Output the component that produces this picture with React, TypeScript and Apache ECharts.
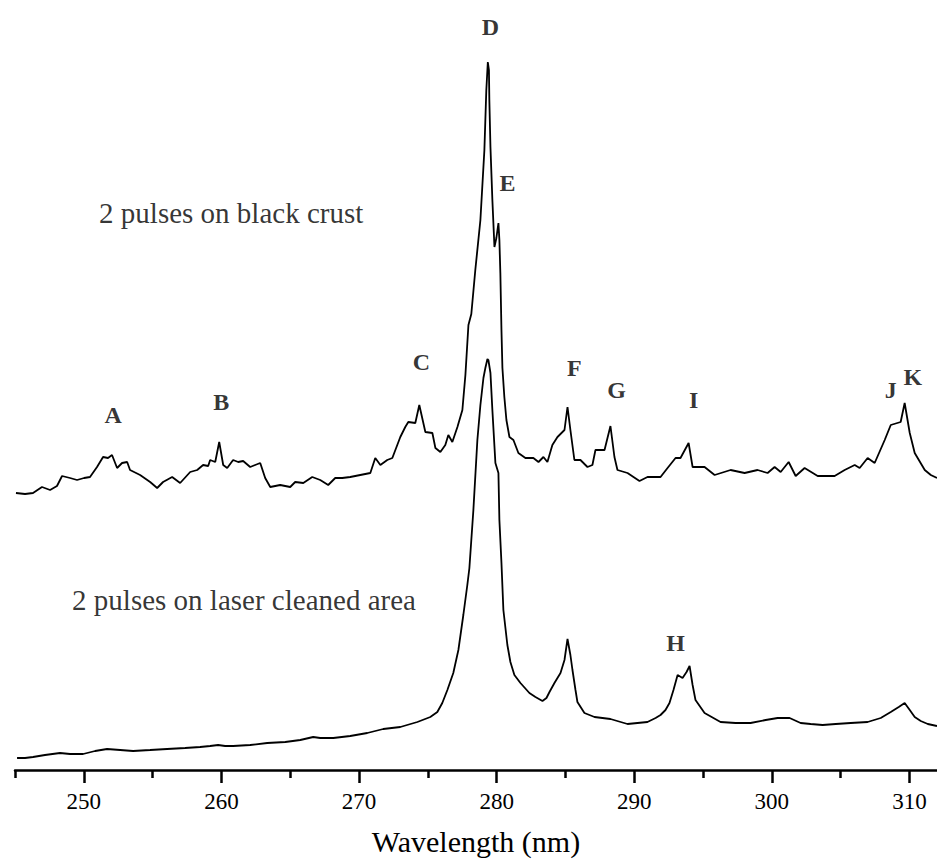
import React, { useEffect, useRef } from "react";
import * as echarts from "echarts";

// Wavelength axis (nm)
const axisMin = 245;
const axisMax = 312;
const majorTicks = [250, 260, 270, 280, 290, 300, 310];
const minorTicks = [245, 255, 265, 275, 285, 295, 305];

// Upper spectrum: 2 pulses on black crust (intensity, a.u.)
const crustWavelength = [245.07,245.73,246.31,246.96,247.55,248.05,248.42,249.0,249.51,250.02,250.45,250.96,251.4,251.76,252.05,252.42,252.78,253.15,253.36,254.09,254.82,255.33,255.76,256.42,257.0,257.73,258.24,258.67,259.04,259.18,259.55,259.84,260.13,260.42,260.85,261.22,261.58,262.09,262.45,262.82,263.18,263.55,264.27,265.0,265.36,265.95,266.6,267.18,267.76,268.27,268.78,269.36,270.09,270.82,271.18,271.55,272.05,272.42,273.0,273.36,273.58,274.09,274.38,274.82,275.33,275.55,275.91,276.27,276.49,276.78,277.15,277.51,277.73,277.95,278.16,278.45,278.82,279.11,279.25,279.36,279.44,279.47,279.55,279.69,279.84,279.98,280.13,280.2,280.27,280.35,280.42,280.56,280.71,280.93,281.22,281.58,282.09,282.67,283.04,283.4,283.69,284.05,284.42,284.93,285.15,285.36,285.65,286.09,286.6,286.96,287.18,287.84,288.27,288.56,288.78,289.51,290.38,290.96,291.91,292.42,293.0,293.36,293.95,294.24,295.11,295.84,297.0,298.02,298.96,299.69,300.2,300.64,301.22,301.73,302.38,303.33,304.56,305.29,306.02,306.38,306.96,307.47,308.2,308.64,309.36,309.65,310.02,310.38,311.11,311.55,312.0];
const crustIntensity = [277,276,277,283,280,284,294,292,290,292,293,303,313,312,315,302,307,308,300,295,288,282,288,293,287,298,300,305,304,310,308,328,305,302,310,308,309,303,305,307,292,283,285,283,288,287,293,290,285,292,292,293,295,297,312,305,310,312,333,343,348,347,365,338,337,322,318,325,335,328,343,360,395,445,456,500,550,620,680,708,700,670,623,570,523,532,547,530,497,440,402,373,350,333,330,317,312,312,308,313,308,325,333,340,363,340,310,310,303,305,320,320,344,313,300,297,289,293,293,302,312,312,327,303,303,295,300,297,300,297,303,298,308,294,302,294,294,300,305,302,312,307,330,345,348,367,337,317,300,295,292];

// Lower spectrum: 2 pulses on laser cleaned area (intensity, a.u.)
const cleanWavelength = [245.15,245.73,246.31,247.18,248.27,249.0,249.95,250.82,251.69,252.64,253.58,254.82,256.05,257.36,258.45,259.18,259.76,260.27,260.85,262.09,263.33,264.64,265.73,266.67,267.18,268.13,269.36,270.6,271.76,273.0,274.24,275.18,275.69,276.05,276.42,276.85,277.22,277.58,277.87,278.02,278.31,278.6,278.82,279.04,279.18,279.33,279.4,279.55,279.69,279.91,280.13,280.2,280.35,280.49,280.78,281.0,281.29,281.73,282.38,282.82,283.33,283.62,283.84,284.2,284.64,284.93,285.15,285.36,285.51,285.73,285.87,286.38,287.11,288.27,289.51,290.96,291.55,291.91,292.27,292.56,292.85,293.15,293.51,293.8,294.02,294.24,294.45,295.11,296.27,297.36,298.45,299.55,300.42,301.29,302.09,302.82,303.69,304.64,305.73,306.96,307.91,308.64,309.22,309.65,310.02,310.38,310.82,311.33,312.0];
const cleanIntensity = [12,12,13,15,17,16,16,19,21,20,19,20,21,22,23,24,25,24,24,25,27,28,30,33,32,32,34,37,41,43,48,53,58,67,80,97,120,155,185,202,260,330,365,392,402,411,410,397,360,307,297,250,207,160,125,108,95,87,77,73,69,72,78,87,97,110,131,115,100,80,68,57,53,51,46,48,52,55,60,67,80,95,92,98,104,85,70,57,48,47,47,50,52,52,47,46,45,46,47,48,52,58,63,67,60,53,49,46,44];

// Peak letters and where they sit
const peakLetters = ["A", "B", "C", "D", "E", "F", "G", "I", "J", "K", "H"];
const peakLabelWavelength = [252.13, 259.98, 274.53, 279.55, 280.78, 285.65, 288.71, 294.31, 308.64, 310.24, 293.0];
const peakLabelIntensity = [355, 368, 408, 743, 587, 402, 380, 370, 380, 393, 127];

// Spectrum captions
const captionTexts = ["2 pulses on black crust", "2 pulses on laser cleaned area"];
const captionWavelength = [251.11, 249.15];
const captionIntensity = [557, 170];

const SERIF = "Liberation Serif";

export default function App() {
  const ref = useRef<HTMLDivElement>(null);

  useEffect(() => {
    if (!ref.current) return;
    const chart = echarts.init(ref.current, undefined, { renderer: "svg" });

    const crustData = crustWavelength.map((w, i) => [w, crustIntensity[i]]);
    const cleanData = cleanWavelength.map((w, i) => [w, cleanIntensity[i]]);
    const peakData = peakLetters.map((l, i) => ({
      name: l,
      value: [peakLabelWavelength[i], peakLabelIntensity[i]],
    }));
    const captionData = captionTexts.map((t, i) => ({
      name: t,
      value: [captionWavelength[i], captionIntensity[i]],
    }));

    chart.setOption({
      animation: false,
      backgroundColor: "#ffffff",
      textStyle: { fontFamily: SERIF, color: "#000" },
      grid: {
        left: 15,
        right: 0,
        top: 10,
        bottom: 91,
        containLabel: false,
        outerBoundsMode: "none",
      },
      xAxis: [
        {
          type: "value",
          min: axisMin,
          max: axisMax,
          position: "bottom",
          axisLine: { show: true, onZero: false, lineStyle: { color: "#000", width: 2.5 } },
          axisTick: {
            show: true,
            customValues: majorTicks,
            length: 13,
            inside: false,
            lineStyle: { color: "#000", width: 2.5 },
          },
          axisLabel: {
            show: true,
            customValues: majorTicks,
            fontFamily: SERIF,
            fontSize: 23,
            color: "#000",
            margin: 8,
            padding: [12, 0, 0, 0],
          },
          splitLine: { show: false },
          name: "Wavelength (nm)",
          nameLocation: "middle",
          nameGap: 56,
          nameMoveOverlap: false,
          nameTextStyle: { fontFamily: SERIF, fontSize: 30, color: "#000" },
        },
        {
          type: "value",
          min: axisMin,
          max: axisMax,
          position: "bottom",
          axisLine: { show: false, onZero: false },
          axisTick: {
            show: true,
            customValues: minorTicks,
            length: 8,
            inside: false,
            lineStyle: { color: "#000", width: 2.5 },
          },
          axisLabel: { show: false },
          splitLine: { show: false },
        },
      ],
      yAxis: {
        type: "value",
        min: 0,
        max: 760,
        show: false,
        splitLine: { show: false },
      },
      series: [
        {
          type: "line",
          name: "2 pulses on black crust",
          data: crustData,
          showSymbol: false,
          symbol: "none",
          lineStyle: { color: "#000", width: 1.8 },
          silent: true,
        },
        {
          type: "line",
          name: "2 pulses on laser cleaned area",
          data: cleanData,
          showSymbol: false,
          symbol: "none",
          lineStyle: { color: "#000", width: 1.8 },
          silent: true,
        },
        {
          type: "scatter",
          data: peakData,
          symbolSize: 0,
          silent: true,
          label: {
            show: true,
            position: "inside",
            formatter: (p: any) => p.name,
            fontFamily: SERIF,
            fontWeight: "bold",
            fontSize: 24,
            color: "#000",
            textBorderWidth: 0,
          },
        },
        {
          type: "scatter",
          data: captionData,
          symbolSize: 0,
          silent: true,
          label: {
            show: true,
            position: "right",
            distance: 0,
            formatter: (p: any) => p.name,
            fontFamily: SERIF,
            fontSize: 29,
            color: "#000",
            textBorderWidth: 0,
          },
        },
      ],
    });

    return () => {
      chart.dispose();
    };
  }, []);

  return (
    <div
      ref={ref}
      style={{ position: "fixed", left: 0, top: 0, width: 937, height: 861, background: "#fff" }}
    />
  );
}
